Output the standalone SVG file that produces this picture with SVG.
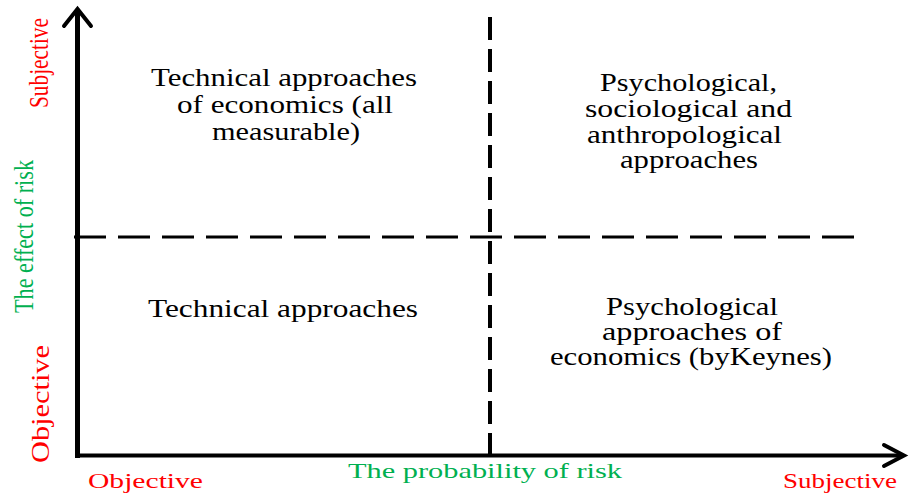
<svg xmlns="http://www.w3.org/2000/svg" width="909" height="494" viewBox="0 0 909 494">
<style>
text{font-family:'Liberation Serif','Times New Roman',Times,serif}
.t{font-size:25px;fill:#000}
.r{font-size:22px;fill:#ff0000}
.g{font-size:22px;fill:#00b050}
.ax{stroke:#000;fill:none;stroke-linecap:butt}
.arr{stroke:#000;fill:none;stroke-width:4;stroke-linecap:round;stroke-linejoin:miter}
</style>
<rect width="909" height="494" fill="#fff"/>
<g id="connectors">
<line class="ax" x1="77.5" y1="10" x2="77.5" y2="458" stroke-width="5"/>
<line class="ax" x1="75" y1="455.5" x2="903" y2="455.5" stroke-width="4"/>
<polyline class="arr" points="64,26 77.5,9 91,26"/>
<polyline class="arr" points="884,445 904,455.5 884,466"/>
<line x1="74" y1="237" x2="855" y2="237" stroke="#000" stroke-width="3" stroke-dasharray="32 12"/>
<line x1="490" y1="17" x2="490" y2="456" stroke="#000" stroke-width="4" stroke-dasharray="23 9"/>
</g>
<g id="axis-labels">
<text class="r" transform="translate(48,108) scale(1.25,1) rotate(-90)" textLength="90" lengthAdjust="spacingAndGlyphs">Subjective</text>
<text class="g" transform="translate(33,313) scale(1.25,1) rotate(-90)" textLength="153" lengthAdjust="spacingAndGlyphs">The effect of risk</text>
<text class="r" transform="translate(49,463) scale(1.1,1) rotate(-90)" font-size="25" textLength="118" lengthAdjust="spacingAndGlyphs">Objective</text>
<text class="r" x="88" y="488" textLength="115" lengthAdjust="spacingAndGlyphs">Objective</text>
<text class="g" x="348" y="478" textLength="274" lengthAdjust="spacingAndGlyphs">The probability of risk</text>
<text class="r" x="783" y="488" textLength="114" lengthAdjust="spacingAndGlyphs">Subjective</text>
</g>
<g id="top-left">
<text class="t" x="151" y="86" textLength="266" lengthAdjust="spacingAndGlyphs">Technical approaches</text>
<text class="t" x="177" y="113" textLength="216" lengthAdjust="spacingAndGlyphs">of economics (all</text>
<text class="t" x="212" y="140" textLength="148" lengthAdjust="spacingAndGlyphs">measurable)</text>
</g>
<g id="top-right">
<text class="t" x="600" y="91" textLength="177" lengthAdjust="spacingAndGlyphs">Psychological,</text>
<text class="t" x="585" y="117" textLength="207" lengthAdjust="spacingAndGlyphs">sociological and</text>
<text class="t" x="587" y="143" textLength="195" lengthAdjust="spacingAndGlyphs">anthropological</text>
<text class="t" x="620" y="168" textLength="138" lengthAdjust="spacingAndGlyphs">approaches</text>
</g>
<g id="bottom-left">
<text class="t" x="148" y="317" textLength="270" lengthAdjust="spacingAndGlyphs">Technical approaches</text>
</g>
<g id="bottom-right">
<text class="t" x="606" y="315" textLength="172" lengthAdjust="spacingAndGlyphs">Psychological</text>
<text class="t" x="602" y="340" textLength="180" lengthAdjust="spacingAndGlyphs">approaches of</text>
<text class="t" x="550" y="365" textLength="282" lengthAdjust="spacingAndGlyphs">economics (byKeynes)</text>
</g>
</svg>
